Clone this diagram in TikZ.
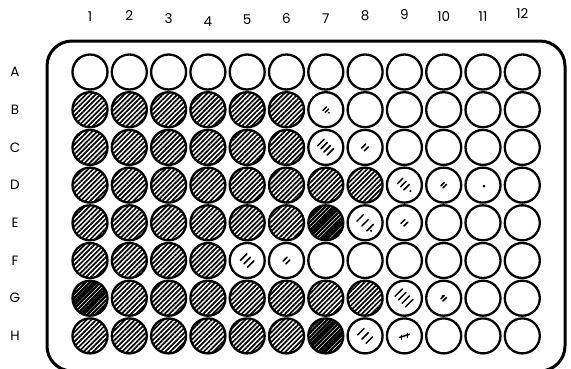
\documentclass[tikz,border=0pt]{standalone}
\usepackage{fontspec}
\setmainfont{Poppins}
\usetikzlibrary{patterns.meta}
\newcommand\mkstrokes[3]{%
  \foreach \o in {#2} \draw[mk] ([shift={({-#3/2+0.7*\o},{-#3/2-0.7*\o})}]#1.center) -- ++(#3,#3);}
\begin{document}
\begin{tikzpicture}[x=1pt,y=1pt,
  well/.style={circle,draw,line width=2.3pt,minimum size=35pt,inner sep=0pt},
  full/.style={well,pattern={Lines[angle=45,distance=3.4pt,line width=1.7pt]}},
  mk/.style={line width=1.5pt,line cap=round},
  lab/.style={font=\fontsize{13.5}{15}\selectfont,inner sep=0pt}]
\useasboundingbox (0,0) rectangle (571,-368);
% plate outline
\draw[line width=3pt,rounded corners=25pt] (47,-41) rectangle (565,-371);
% column labels
\foreach \c/\dy in {1/17,2/16,3/19,4/22,5/20,6/19,7/19,8/16,9/15,10/17,11/17,12/14}
  \node[lab] (col\c) at ({90+39.3*(\c-1)},-\dy) {\c};
% wells and row labels
\foreach \r/\nf [count=\i] in {A/0,B/6,C/6,D/8,E/7,F/4,G/8,H/7}{
  \node[lab] (row\r) at (15,{-72-37.7*(\i-1)}) {\r};
  \foreach \c in {1,...,12}{
    \ifnum\c>\nf\relax \def\st{well}\else \def\st{full}\fi
    \node[\st] (w\r\c) at ({90+39.3*(\c-1)},{-72-37.7*(\i-1)}) {};
  }}
% darker wells
\foreach \w in {wE7,wH7,wG1}
  \fill[pattern={Lines[angle=45,distance=2.7pt,line width=1.9pt]}] (\w.center) circle (16.5pt);
% partial wells
\mkstrokes{wB7}{-1.5,1.5}{3.5}
\fill ([shift={(3,-3)}]wB7.center) circle (1pt);
\mkstrokes{wC7}{-7,-2.5,2,6.5}{6.5}
\mkstrokes{wC8}{-2,2}{4}
\mkstrokes{wD9}{-6,-1.5,3}{5.5}
\fill ([shift={(6,-6)}]wD9.center) circle (1.1pt);
\mkstrokes{wD10}{-1.5,1.5}{3.5}
\fill ([shift={(1,-1)}]wD11.center) circle (1.4pt);
\mkstrokes{wE8}{-7,0,7}{6.5}
\fill ([shift={(6,-8)}]wE8.center) circle (1.1pt);
\mkstrokes{wE9}{-2,2}{4}
\mkstrokes{wF5}{-5,0,5}{6.5}
\mkstrokes{wF6}{-2,2}{4}
\mkstrokes{wG9}{-8,-3,2,7}{7.5}
\mkstrokes{wG10}{-1.5,1.5}{3.5}
\fill ([shift={(-1,2)}]wG10.center) circle (1.3pt);
\mkstrokes{wH8}{-6,0,6}{6.5}
\draw[mk] ([shift={(-5,-1.5)}]wH9.center) -- ([shift={(5,1.5)}]wH9.center);
\draw[mk] ([shift={(-3,-3.5)}]wH9.center) -- ([shift={(-3,0.5)}]wH9.center);
\draw[mk] ([shift={(3,-1.5)}]wH9.center) -- ([shift={(3,2.5)}]wH9.center);
\end{tikzpicture}
\end{document}
